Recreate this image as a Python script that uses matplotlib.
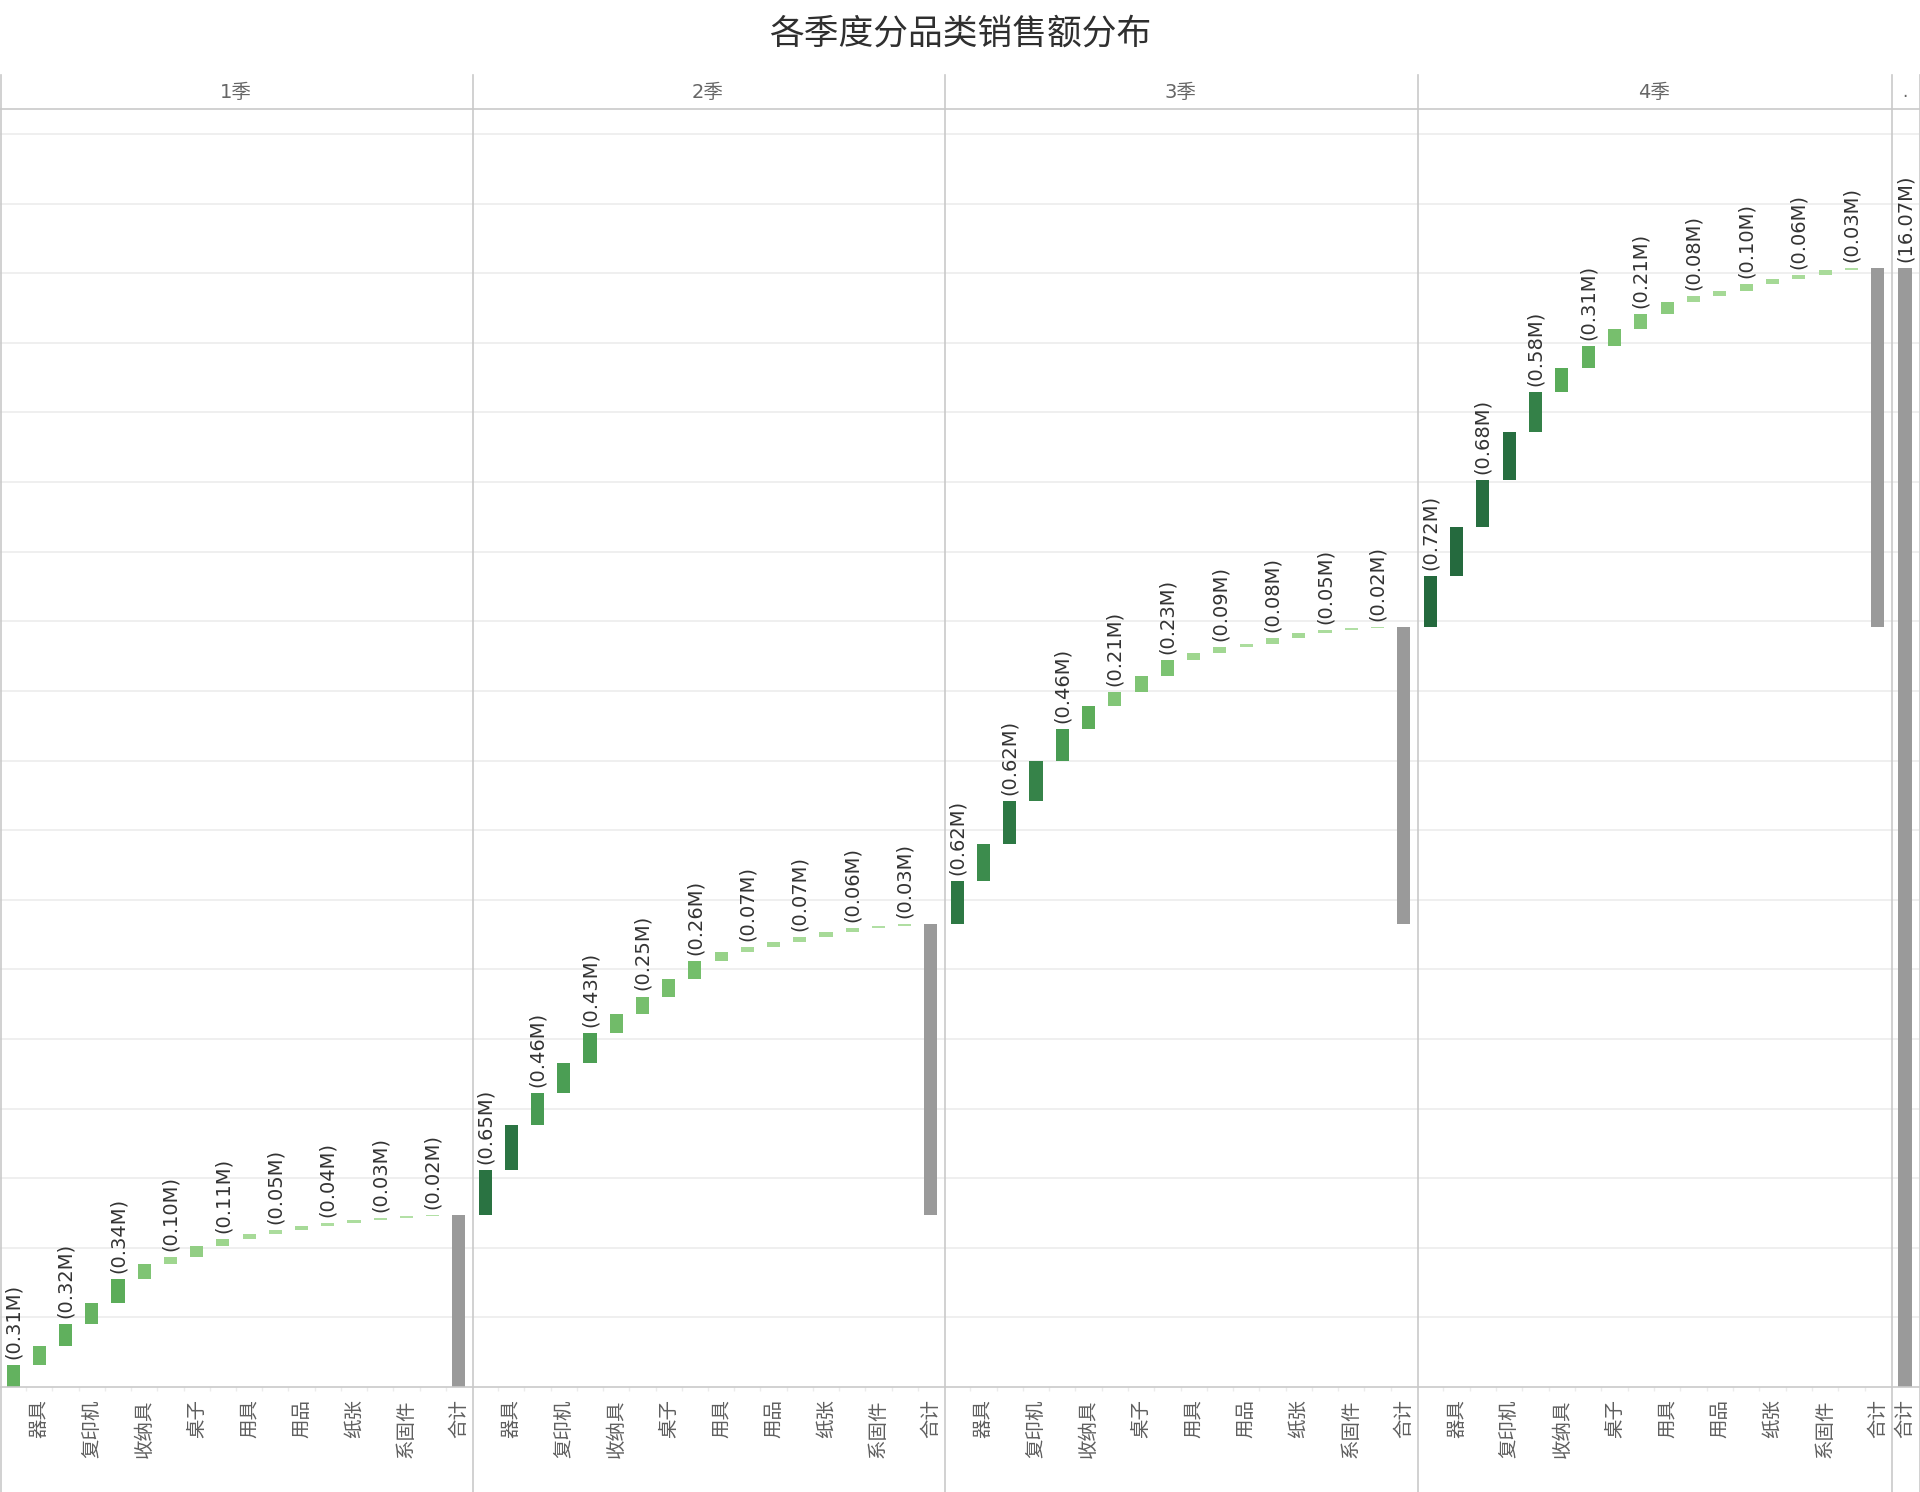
import numpy as np
import matplotlib
matplotlib.use('Agg')
import matplotlib.pyplot as plt
from matplotlib.colors import LinearSegmentedColormap, Normalize
from matplotlib.lines import Line2D

plt.rcParams['font.family'] = ['DejaVu Sans', 'Noto Sans CJK SC']

# 数据 (单位: 百万)
categories = ['书架', '器具', '椅子', '复印机', '电话', '收纳具', '配件', '桌子', '设备',
              '用具', '装订机', '用品', '美术', '纸张', '信封', '系固件', '标签']
quarters = ['1季', '2季', '3季', '4季']
q1 = [0.31, 0.28, 0.32, 0.30, 0.34, 0.22, 0.10, 0.15, 0.11, 0.07, 0.05, 0.07, 0.04, 0.045, 0.03, 0.015, 0.02]
q2 = [0.65, 0.64, 0.46, 0.44, 0.43, 0.27, 0.25, 0.25, 0.26, 0.13, 0.07, 0.075, 0.07, 0.07, 0.06, 0.025, 0.03]
q3 = [0.62, 0.53, 0.62, 0.57, 0.46, 0.33, 0.21, 0.22, 0.23, 0.10, 0.09, 0.045, 0.08, 0.075, 0.05, 0.025, 0.02]
q4 = [0.72, 0.71, 0.68, 0.68, 0.58, 0.35, 0.31, 0.25, 0.21, 0.175, 0.08, 0.075, 0.10, 0.075, 0.06, 0.06, 0.03]
total_label = '合计'

W, H = 1920, 1492
fig = plt.figure(figsize=(W / 100, H / 100), dpi=100)

def fx(px):
    return px / W

def fy(py):
    return 1 - py / H

edges = [0, 472, 944, 1417, 1891, 1919]
plot_top, plot_bot, head_top = 109, 1387, 75
ymax = 18.36

green = LinearSegmentedColormap.from_list('tab_green', [
    (0.0, '#b3e0a6'), (0.12, '#9fd68f'), (0.33, '#78c06e'), (0.45, '#5cad5a'),
    (0.65, '#469952'), (0.88, '#2b7543'), (1.0, '#24693d')])
all_vals = np.concatenate([q1, q2, q3, q4])
norm = Normalize(vmin=all_vals.min(), vmax=all_vals.max())
grey = '#9a9a9a'
line_c = '#c9c9c9'

def setup_ax(ax, n):
    ax.set_xlim(-0.5, n - 0.5)
    ax.set_ylim(0, ymax)
    ax.set_yticks(np.arange(1, 19))
    ax.tick_params(axis='y', length=0, labelleft=False)
    ax.grid(axis='y', color='#ececec', lw=1.2)
    ax.set_axisbelow(True)
    for s in ax.spines.values():
        s.set_visible(False)
    ax.tick_params(axis='x', length=0, pad=9, labelsize=14, labelcolor='#5f5f5f',
                   labelrotation=90)
    ax.set_xticks(np.arange(n - 1) + 0.5, minor=True)
    ax.tick_params(axis='x', which='minor', length=3, color='#ececec', width=1)

start = 0.0
for qi, vals in enumerate([q1, q2, q3, q4]):
    x0, x1 = edges[qi], edges[qi + 1]
    ax = fig.add_axes([fx(x0), fy(plot_bot), fx(x1 - x0), (plot_bot - plot_top) / H])
    n = len(vals) + 1
    setup_ax(ax, n)
    cum = start + np.concatenate([[0], np.cumsum(vals)])
    bottoms = cum[:-1]
    xs = np.arange(len(vals))
    ax.bar(xs, vals, bottom=bottoms, width=0.5, color=green(norm(np.array(vals))), lw=0)
    ax.bar(len(vals), cum[-1] - start, bottom=start, width=0.5, color=grey, lw=0)
    # Tableau 只显示不重叠的标签: 隔一个显示
    for i, v in enumerate(vals):
        if i % 2 == 0:
            ax.annotate(f'({v:.2f}M)', (i, bottoms[i] + v), xytext=(0, 6),
                        textcoords='offset pixels', rotation=90, ha='center', va='bottom',
                        fontsize=14, color='#333333')
    labels = [c if i % 2 == 1 else '' for i, c in enumerate(categories)] + [total_label]
    ax.set_xticks(np.arange(n))
    ax.set_xticklabels(labels)
    fig.text(fx((x0 + x1) / 2), fy(92), quarters[qi], ha='center', va='center',
             fontsize=14, color='#666666')
    start = cum[-1]

# 总计面板
x0, x1 = edges[4], edges[5]
ax = fig.add_axes([fx(x0), fy(plot_bot), fx(x1 - x0), (plot_bot - plot_top) / H])
setup_ax(ax, 1)
ax.bar(0, start, width=0.5, color=grey, lw=0)
ax.annotate(f'({start:.2f}M)', (0, start), xytext=(0, 6), textcoords='offset pixels',
            rotation=90, ha='center', va='bottom', fontsize=14, color='#333333')
ax.set_xticks([0])
ax.set_xticklabels([total_label])
fig.text(fx((x0 + x1) / 2), fy(92), '.', ha='center', va='center', fontsize=12, color='#666666')

# 分隔线
for e in edges:
    fig.add_artist(Line2D([fx(e + 1), fx(e + 1)], [fy(head_top), 0], color=line_c, lw=1.2))
fig.add_artist(Line2D([0, 1], [fy(plot_top), fy(plot_top)], color=line_c, lw=1.2))
fig.add_artist(Line2D([0, fx(1919)], [fy(plot_bot), fy(plot_bot)], color=line_c, lw=1.2))

fig.text(0.5, fy(34), '各季度分品类销售额分布', ha='center', va='center',
         fontsize=25, color='#2f2f2f')

fig.savefig('out.png', dpi=100, facecolor='white')
